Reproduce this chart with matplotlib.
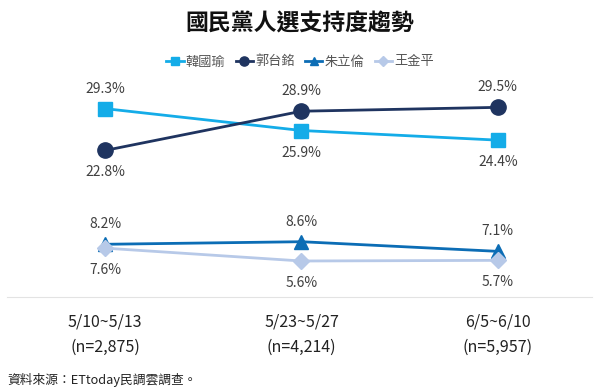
import matplotlib.pyplot as plt

plt.rcParams['font.family'] = ['Noto Sans CJK TC', 'DejaVu Sans']

periods = ['5/10~5/13\n(n=2,875)', '5/23~5/27\n(n=4,214)', '6/5~6/10\n(n=5,957)']
names = ['韓國瑜', '郭台銘', '朱立倫', '王金平']
han = [29.3, 25.9, 24.4]
kuo = [22.8, 28.9, 29.5]
chu = [8.2, 8.6, 7.1]
wang = [7.6, 5.6, 5.7]

series = [han, kuo, chu, wang]
colors = ['#14ACE8', '#1F3460', '#0C6DB5', '#B7C9E8']
markers = ['s', 'o', '^', 'D']
msizes = [10, 11, 10, 8]
# label above (+1) or below (-1) for each point
place = [
    [1, -1, -1],
    [-1, 1, 1],
    [1, 1, 1],
    [-1, -1, -1],
]

fig = plt.figure(figsize=(6, 3.92), dpi=100)
ax = fig.add_axes([7 / 600, 1 - 297 / 392, 585 / 600, (297 - 72) / 392])

x = list(range(len(periods)))
for i in [3, 2, 1, 0]:
    ax.plot(x, series[i], color=colors[i], marker=markers[i], markersize=msizes[i],
            linewidth=2, label=names[i], zorder=3 + i)
    for j, v in enumerate(series[i]):
        off = 20 if place[i][j] > 0 else -22
        ax.annotate(f'{v}%', (j, v), xytext=(0, off), textcoords='offset pixels',
                    ha='center', va='center', fontsize=10, color='#404040')

ax.set_xlim(-0.5, 2.48)
ax.set_ylim(0, 35)
ax.set_yticks([])
ax.set_xticks(x)
ax.set_xticklabels(periods, fontsize=11.5, color='#222222', linespacing=1.6)
ax.tick_params(axis='x', length=0, pad=12)
for s in ['top', 'right', 'left']:
    ax.spines[s].set_visible(False)
ax.spines['bottom'].set_color('#E3E3E3')

handles, labels = ax.get_legend_handles_labels()
order = [3, 2, 1, 0]
fig.legend([handles[k] for k in order], [labels[k] for k in order],
           loc='center', bbox_to_anchor=(0.5, 1 - 62 / 392), ncol=4, frameon=False,
           fontsize=9.5, labelcolor='#555555', handlelength=1.3, handletextpad=0.15,
           columnspacing=0.8, markerscale=0.6)

fig.text(0.5, 1 - 24 / 392, '國民黨人選支持度趨勢', ha='center', va='center',
         fontsize=16.5, fontweight='bold', color='#111111')
fig.text(7 / 600, 1 - 380 / 392, '資料來源：ETtoday民調雲調查。', ha='left', va='center',
         fontsize=9.2, color='#222222')

fig.savefig('out.png', dpi=100)
